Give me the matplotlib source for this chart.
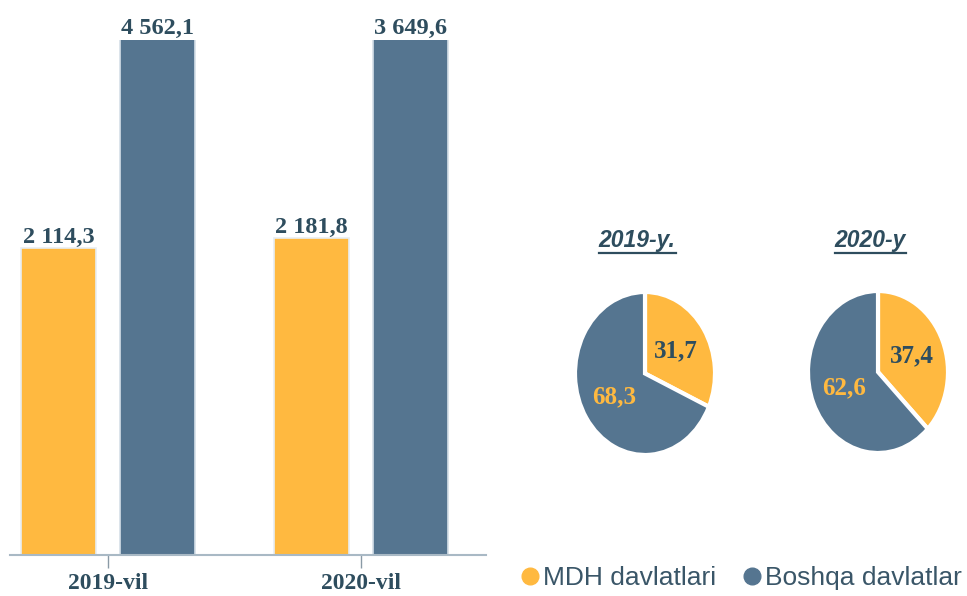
import matplotlib
matplotlib.use("Agg")
import matplotlib.pyplot as plt
from matplotlib.lines import Line2D
import numpy as np

# ---- data ----
years = ["2019-vil", "2020-vil"]
mdh_values = [2114.3, 2181.8]
other_values = [4562.1, 3649.6]
pie_titles = ["2019-y.", "2020-y"]
pie_mdh = [31.7, 37.4]
pie_other = [68.3, 62.6]
legend_labels = ["MDH davlatlari", "Boshqa davlatlar"]

ORANGE = "#FFB940"
SLATE = "#557590"
TEXT = "#2E4D5E"
SERIF = ["Liberation Serif", "DejaVu Serif"]
SANS = ["Liberation Sans", "DejaVu Sans"]

W, H = 967, 596
fig = plt.figure(figsize=(W / 100, H / 100), dpi=100)


def px_axes(left, top, right, bottom):
    return fig.add_axes([left / W, 1 - bottom / H, (right - left) / W, (bottom - top) / H])


def fmt(v):
    s = f"{v:,.1f}".replace(",", " ").replace(".", ",")
    return s

# ---- bar chart ----
ax = px_axes(10, 40, 486, 555)
x = np.arange(len(years))
bw = 0.296
off = 0.196
YMAX = 3550
ax.bar(x - off, mdh_values, bw, color=ORANGE, edgecolor="#E8EEF3", linewidth=1.2)
ax.bar(x + off, other_values, bw, color=SLATE, edgecolor="#D5DFE8", linewidth=1.2)
ax.set_ylim(0, YMAX)
ax.set_xlim(-0.387, 1.494)
for xi, v in zip(x - off, mdh_values):
    ax.annotate(fmt(v), (xi, min(v, YMAX)), xytext=(0, 4), textcoords="offset points",
                ha="center", va="baseline", fontsize=17.5, fontweight="bold",
                family=SERIF, color=TEXT, annotation_clip=False)
for xi, v in zip(x + off, other_values):
    ax.annotate(fmt(v), (xi, min(v, YMAX)), xytext=(0, 4), textcoords="offset points",
                ha="center", va="baseline", fontsize=17.5, fontweight="bold",
                family=SERIF, color=TEXT, annotation_clip=False)
for s in ["top", "right", "left"]:
    ax.spines[s].set_visible(False)
ax.spines["bottom"].set_color("#A9B9C5")
ax.spines["bottom"].set_linewidth(1.5)
ax.set_yticks([])
ax.set_xticks(x)
ax.set_xticklabels(years, fontsize=17, fontweight="bold", family=SERIF, color=TEXT)
ax.tick_params(axis="x", length=9, width=1, color="#8A9AA6", pad=4)

# ---- pies ----
pie_boxes = [(575, 292, 715, 455), (808, 291, 948, 453)]
for box, title, a, b in zip(pie_boxes, pie_titles, pie_mdh, pie_other):
    pa = px_axes(*box)
    wedges, texts, autotexts = pa.pie(
        [a, b], colors=[ORANGE, SLATE], startangle=90, counterclock=False,
        wedgeprops=dict(edgecolor="white", linewidth=3),
        autopct=lambda p: f"{p:.1f}".replace(".", ","), pctdistance=0.52,
        textprops=dict(fontsize=18, fontweight="bold", family=SERIF))
    autotexts[0].set_color(TEXT)
    autotexts[1].set_color(ORANGE)
    pa.set_xlim(-1.0, 1.0)
    pa.set_ylim(-1.0, 1.0)
    pa.set_aspect("auto")
    cx = (box[0] + box[2]) / 2
    t = fig.text(cx / W - 0.008, 1 - 240 / H, title, ha="center", va="center",
                 fontsize=16.5, fontweight="bold", fontstyle="italic",
                 family=SANS, color=TEXT)
    fig.canvas.draw()
    bb = t.get_window_extent()
    uy = (bb.y0 - 1) / H
    fig.add_artist(Line2D([bb.x0 / W, bb.x1 / W], [uy, uy], color=TEXT, linewidth=1.6))

# ---- legend ----
handles = [Line2D([], [], marker="o", linestyle="none", markersize=12, color=ORANGE),
           Line2D([], [], marker="o", linestyle="none", markersize=12, color=SLATE)]
leg = fig.legend(handles, legend_labels, loc="center", bbox_to_anchor=(740 / W, 1 - 578 / H),
                 ncol=2, frameon=False, handletextpad=0.05, columnspacing=0.9,
                 prop=dict(family=SANS, size=19), handlelength=0.9)
for txt in leg.get_texts():
    txt.set_color("#3A5668")

fig.savefig("out.png", dpi=100, facecolor="white")
